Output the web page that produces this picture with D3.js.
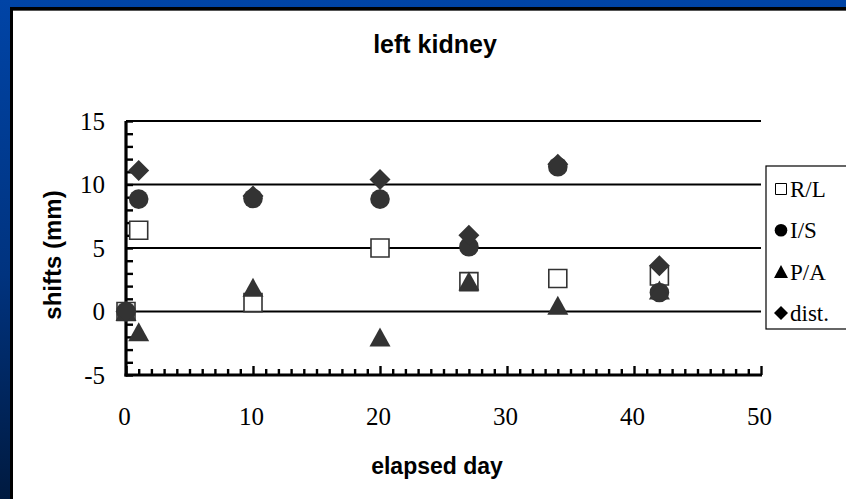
<!DOCTYPE html>
<html>
<head>
<meta charset="utf-8">
<script src="https://cdn.jsdelivr.net/npm/d3@7"></script>
<style>
  html, body { margin: 0; padding: 0; overflow: hidden; }
  svg { display: block; }
</style>
</head>
<body>
<svg id="chart" width="846" height="499"></svg>
<script>
// Days after the first session and the measured shifts (mm) per direction
const days = [0, 1, 10, 20, 27, 34, 42];
const shiftRL = [0, 6.4, 0.7, 5.0, 2.35, 2.6, 2.8];
const shiftIS = [0, 8.85, 8.9, 8.85, 5.1, 11.4, 1.5];
const shiftPA = [0, -1.6, 1.9, -2.0, 2.4, 0.5, 1.7];
const shiftDist = [0, 11.1, 9.1, 10.4, 6.0, 11.6, 3.6];

const seriesNames = ["R/L", "I/S", "P/A", "dist."];
const xTickValues = [0, 10, 20, 30, 40, 50];
const yTickValues = [-5, 0, 5, 10, 15];
const gridValues = [0, 5, 10, 15];

const W = 846, H = 499;
const svg = d3.select("#chart");

// Slide background: blue frame, white panel with a black edge
const defs = svg.append("defs");
const grad = defs.append("linearGradient").attr("id", "bg")
  .attr("x1", 0).attr("y1", 0).attr("x2", 0).attr("y2", 1);
grad.append("stop").attr("offset", "0%").attr("stop-color", "#0044a6");
grad.append("stop").attr("offset", "55%").attr("stop-color", "#00337f");
grad.append("stop").attr("offset", "100%").attr("stop-color", "#001a40");
svg.append("rect").attr("width", W).attr("height", H).attr("fill", "url(#bg)");
svg.append("rect").attr("x", 10).attr("y", 7).attr("width", W).attr("height", H)
  .attr("fill", "#000");
svg.append("rect").attr("x", 13).attr("y", 10).attr("width", W).attr("height", H)
  .attr("fill", "#fff");
svg.append("line").attr("x1", 13).attr("x2", W).attr("y1", 10.5).attr("y2", 10.5)
  .attr("stroke", "#555").attr("stroke-width", 1);

const x = d3.scaleLinear().domain([0, 50]).range([126, 761]);
const y = d3.scaleLinear().domain([-5, 15]).range([375, 121]);

const ink = "#333333";

// Title and axis titles
svg.append("text").attr("x", 435).attr("y", 53).attr("text-anchor", "middle")
  .attr("font-family", "'Liberation Sans', Arial, sans-serif").attr("font-weight", "bold")
  .attr("font-size", 25).text("left kidney");
svg.append("text").attr("transform", "translate(61,255) rotate(-90)")
  .attr("text-anchor", "middle")
  .attr("font-family", "'Liberation Sans', Arial, sans-serif").attr("font-weight", "bold")
  .attr("font-size", 24).text("shifts (mm)");
svg.append("text").attr("x", 437).attr("y", 474).attr("text-anchor", "middle")
  .attr("font-family", "'Liberation Sans', Arial, sans-serif").attr("font-weight", "bold")
  .attr("font-size", 23).text("elapsed day");

// Horizontal gridlines
svg.append("g").selectAll("line").data(gridValues).join("line")
  .attr("x1", x(0)).attr("x2", x(50))
  .attr("y1", d => y(d)).attr("y2", d => y(d))
  .attr("stroke", "#000").attr("stroke-width", 1.8);

// Y axis: inward minor ticks every 1 mm
const yAxis = svg.append("g").attr("transform", `translate(${x(0)},0)`)
  .call(d3.axisRight(y).tickValues(d3.range(-5, 16)).tickSize(7).tickFormat(""));
yAxis.select(".domain").remove();
yAxis.selectAll(".tick line").attr("stroke", "#000").attr("stroke-width", 2.4);

// X axis: inward minor ticks every day, longer ones every 10 days
const xAxis = svg.append("g").attr("transform", `translate(0,${y(-5)})`)
  .call(d3.axisTop(x).tickValues(d3.range(0, 51)).tickSize(6).tickFormat(""));
xAxis.select(".domain").remove();
xAxis.selectAll(".tick line")
  .attr("y2", d => d % 10 === 0 ? -9 : -6)
  .attr("stroke", "#000").attr("stroke-width", 2.4);

// Axis lines
svg.append("line").attr("x1", x(0)).attr("x2", x(0)).attr("y1", y(15)).attr("y2", y(-5) + 1.5)
  .attr("stroke", "#000").attr("stroke-width", 3.2);
svg.append("line").attr("x1", x(0) - 1.5).attr("x2", x(50) + 1).attr("y1", y(-5)).attr("y2", y(-5))
  .attr("stroke", "#000").attr("stroke-width", 3.2);

// Tick labels (plain hyphen for negatives)
const fmt = d => String(d);
const yLab = svg.append("g").attr("transform", `translate(${x(0)},0)`)
  .call(d3.axisLeft(y).tickValues(yTickValues).tickFormat(fmt).tickSize(0).tickPadding(21));
yLab.select(".domain").remove();
yLab.selectAll("text").attr("font-family", "'Liberation Serif', 'Times New Roman', serif")
  .attr("font-size", 25).attr("fill", "#000");

const xLab = svg.append("g").attr("transform", `translate(-2,${y(-5)})`)
  .call(d3.axisBottom(x).tickValues(xTickValues).tickFormat(fmt).tickSize(0).tickPadding(32));
xLab.select(".domain").remove();
xLab.selectAll("text").attr("font-family", "'Liberation Serif', 'Times New Roman', serif")
  .attr("font-size", 25).attr("fill", "#000");

// Marker shapes, centred on (0,0)
function squarePath(s) { const h = s / 2; return `M${-h},${-h}H${h}V${h}H${-h}Z`; }
function circlePath(r) { const p = d3.path(); p.arc(0, 0, r, 0, 2 * Math.PI); return p.toString(); }
function trianglePath(w, h) { return `M0,${-h / 2}L${w / 2},${h / 2}L${-w / 2},${h / 2}Z`; }
function diamondPath(w, h) { return `M0,${-h / 2}L${w / 2},0L0,${h / 2}L${-w / 2},0Z`; }

const markers = [
  { vals: shiftRL, path: squarePath(18), fill: "#fff", stroke: ink, sw: 1.6 },
  { vals: shiftIS, path: circlePath(9.8), fill: ink, stroke: "none", sw: 0 },
  { vals: shiftPA, path: trianglePath(21, 19), fill: ink, stroke: "none", sw: 0 },
  { vals: shiftDist, path: diamondPath(21, 21), fill: ink, stroke: "none", sw: 0 }
];

markers.forEach(m => {
  svg.append("g").selectAll("path").data(days.map((d, i) => [d, m.vals[i]])).join("path")
    .attr("transform", d => `translate(${x(d[0])},${y(d[1])})`)
    .attr("d", m.path).attr("fill", m.fill).attr("stroke", m.stroke).attr("stroke-width", m.sw);
});

// Legend
const lg = svg.append("g");
lg.append("rect").attr("x", 766).attr("y", 166).attr("width", 100).attr("height", 163)
  .attr("fill", "#fff").attr("stroke", "#000").attr("stroke-width", 1.2);
const legendMarks = [
  { path: squarePath(11), fill: "#fff", stroke: "#000", sw: 1 },
  { path: circlePath(6.3), fill: "#000", stroke: "none", sw: 0 },
  { path: trianglePath(14, 13), fill: "#000", stroke: "none", sw: 0 },
  { path: diamondPath(14, 14), fill: "#000", stroke: "none", sw: 0 }
];
seriesNames.forEach((name, i) => {
  const cy = 189 + i * 41.3;
  lg.append("path").attr("transform", `translate(781,${cy})`)
    .attr("d", legendMarks[i].path).attr("fill", legendMarks[i].fill)
    .attr("stroke", legendMarks[i].stroke).attr("stroke-width", legendMarks[i].sw);
  lg.append("text").attr("x", 790).attr("y", cy + 8)
    .attr("font-family", "'Liberation Serif', 'Times New Roman', serif")
    .attr("font-size", 23).attr("fill", "#000").text(name);
});
</script>
</body>
</html>
